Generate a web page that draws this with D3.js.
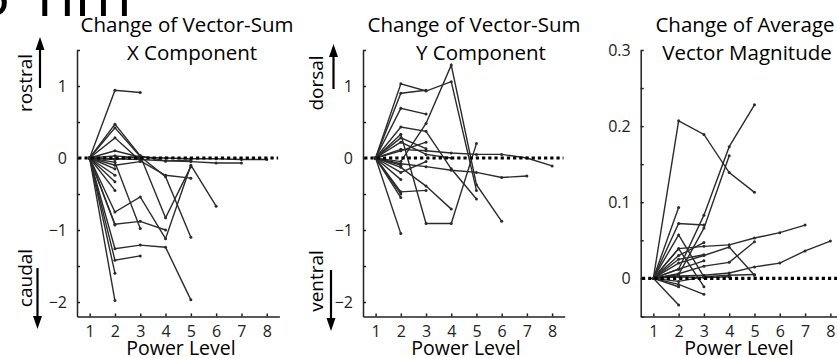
<!DOCTYPE html>
<html>
<head>
<meta charset="utf-8">
<script src="https://cdn.jsdelivr.net/npm/d3@7"></script>
<style>
  body { margin: 0; background: #fff; }
  svg { display: block; font-family: "Open Sans", sans-serif; }
</style>
</head>
<body>
<svg id="chart" width="837" height="358"></svg>
<script>
// power levels on the x axis
const powerLevels = [1, 2, 3, 4, 5, 6, 7, 8];

// y ticks
const compTicks = [-2, -1.5, -1, -0.5, 0, 0.5, 1, 1.5];
const compLabels = [-2, -1, 0, 1];
const magTicks = [-0.05, 0, 0.05, 0.1, 0.15, 0.2, 0.25, 0.3];
const magLabels = [0, 0.1, 0.2, 0.3];

// change of vector-sum X component, one array per site (starts at power level 1)
const xCompSeries = [
  [0, 0.94, 0.91],
  [0, 0.47, 0.03, -0.83, -0.12],
  [0, 0.42, 0.02, -0.26, -1.10],
  [0, 0.28, -0.04, -0.24, -0.28],
  [0, 0.10, 0.01, 0.0, -0.01, -0.01, -0.02, -0.02],
  [0, -0.01, -0.02, -0.04, -0.05, -0.07, -0.07],
  [0, -0.02, 0.03, -0.04, -0.03],
  [0, -0.06, -0.98],
  [0, -0.75, -0.54, -1.12, -0.10, -0.67],
  [0, -0.92, -0.88, -1.0],
  [0, -1.26, -1.21, -1.24, -1.97],
  [0, -1.42, -1.36],
  [0, -1.60],
  [0, -1.98],
  [0, -0.93],
  [0, -0.33],
  [0, -0.24],
  [0, -0.15],
  [0, -0.10, -0.05],
  [0, 0.03, 0.0],
  [0, -0.45]
];

// change of vector-sum Y component
const yCompSeries = [
  [0, 1.03, 0.93, 1.06, -0.45],
  [0, -0.05, 0.48, 1.29, -0.37, -0.88],
  [0, 0.90, 0.94],
  [0, 0.69, 0.61],
  [0, 0.43, 0.37, -0.15, -0.57],
  [0, 0.33, -0.91, -0.91, 0.20],
  [0, 0.12, 0.10, 0.07, 0.05, 0.05, 0.0, -0.11],
  [0, -0.08, -0.12, -0.17, -0.20, -0.27, -0.25],
  [0, 0.10, 0.22],
  [0, 0.28, 0.13],
  [0, -0.47, -0.45],
  [0, -0.13, -0.39, -0.71],
  [0, -1.05],
  [0, -0.55],
  [0, -0.50],
  [0, -0.30],
  [0, -0.20, -0.05],
  [0, 0.22, 0.05, 0.0],
  [0, -0.10]
];

// change of average vector magnitude
const magSeries = [
  [0, 0.207, 0.189, 0.139, 0.113],
  [0, 0.012, 0.083, 0.173, 0.228],
  [0, 0.005, 0.066, 0.161],
  [0, 0.093],
  [0, 0.072, 0.070],
  [0, 0.039, 0.042, 0.044, 0.053, 0.060, 0.070],
  [0, 0.003, 0.004, 0.007, 0.015, 0.020, 0.036, 0.049],
  [0, 0.020, 0.030, 0.041, 0.004],
  [0, 0.006, 0.016, 0.021, 0.048],
  [0, 0.057, 0.002, 0.004, 0.005],
  [0, 0.039, -0.011],
  [0, -0.008, -0.021],
  [0, -0.035],
  [0, -0.011],
  [0, 0.030, 0.047],
  [0, 0.012, 0.023],
  [0, 0.002, 0.001, 0.002],
  [0, -0.004, 0.002],
  [0, 0.025, 0.031]
];

const svg = d3.select("#chart");
const lineColor = "#2b2b2b";

const fmt = v => String(+v.toFixed(2)).replace("-", "\u2212");

// big label cut off by the top edge
svg.append("text").attr("x", -24).attr("y", 16).attr("font-size", 60).text("5");
svg.append("text").attr("x", 37).attr("y", 16).attr("font-size", 60)
  .attr("textLength", 95).attr("lengthAdjust", "spacingAndGlyphs").text("nm");

function drawPanel(p) {
  const x = d3.scaleLinear().domain([0.5, 8.5]).range([p.left, p.right]);
  const y = d3.scaleLinear().domain(p.yDomain).range([316.4, 50]);
  const g = svg.append("g");

  const xAxis = g.append("g")
    .attr("transform", `translate(0,${y.range()[0]})`)
    .call(d3.axisBottom(x).tickValues(powerLevels).tickSize(-3).tickSizeOuter(0).tickPadding(9));

  const yAxis = g.append("g")
    .attr("transform", `translate(${p.left},0)`)
    .call(d3.axisLeft(y).tickValues(p.ticks).tickSize(-3).tickSizeOuter(0).tickPadding(10)
      .tickFormat(v => p.labels.some(l => Math.abs(l - v) < 1e-9) ? fmt(v) : ""));

  [xAxis, yAxis].forEach(a => {
    a.attr("font-size", 16).attr("font-family", null).attr("color", "#222");
    a.selectAll("path, line").attr("stroke-width", 1.5);
  });

  const line = d3.line()
    .x((d, i) => x(powerLevels[i]))
    .y(d => y(d));

  const lines = g.append("g");
  p.series.forEach(s => {
    lines.append("path")
      .datum(s)
      .attr("fill", "none")
      .attr("stroke", lineColor)
      .attr("stroke-width", 1.4)
      .attr("d", line);
    lines.selectAll(null)
      .data(s)
      .join("circle")
      .attr("cx", (d, i) => x(powerLevels[i]))
      .attr("cy", d => y(d))
      .attr("r", 1.5)
      .attr("fill", lineColor);
  });

  // dotted zero reference
  g.append("line")
    .attr("x1", x(0.55)).attr("x2", x(8.45))
    .attr("y1", y(0)).attr("y2", y(0))
    .attr("stroke", "#000")
    .attr("stroke-width", 3.2)
    .attr("stroke-dasharray", "3.2,3");

  // title
  p.title.forEach((t, i) => {
    g.append("text")
      .attr("x", p.titleX[i]).attr("y", 32 + i * 27.6)
      .attr("text-anchor", "middle")
      .attr("font-size", 20.5)
      .text(t);
  });

  g.append("text")
    .attr("x", p.xLabelX).attr("y", 355)
    .attr("text-anchor", "middle")
    .attr("font-size", 19.5)
    .text("Power Level");

  // direction labels with arrows
  (p.dirs || []).forEach(d => {
    g.append("text")
      .attr("transform", `translate(${d.tx},${d.ty}) rotate(-90)`)
      .attr("text-anchor", "middle")
      .attr("font-size", 19)
      .text(d.text);
    const dir = d.tip < d.base ? 1 : -1;
    g.append("line")
      .attr("x1", d.ax).attr("x2", d.ax)
      .attr("y1", d.base).attr("y2", d.tip + dir * 10)
      .attr("stroke", "#000").attr("stroke-width", 2.2);
    g.append("path")
      .attr("d", `M${d.ax},${d.tip}L${d.ax - 4.5},${d.tip + dir * 13}L${d.ax + 4.5},${d.tip + dir * 13}Z`)
      .attr("fill", "#000");
  });
}

drawPanel({
  left: 77, right: 279.4, yDomain: [-2.2, 1.5],
  ticks: compTicks, labels: compLabels, series: xCompSeries,
  title: ["Change of Vector-Sum", "X Component"], titleX: [187, 192], xLabelX: 181,
  dirs: [
    { text: "rostral", tx: 32, ty: 83, ax: 40, base: 88, tip: 37 },
    { text: "caudal", tx: 32, ty: 278, ax: 37.5, base: 268, tip: 329 }
  ]
});

drawPanel({
  left: 363, right: 564.7, yDomain: [-2.2, 1.5],
  ticks: compTicks, labels: compLabels, series: yCompSeries,
  title: ["Change of Vector-Sum", "Y Component"], titleX: [474, 481], xLabelX: 466,
  dirs: [
    { text: "dorsal", tx: 323, ty: 83, ax: 333.5, base: 89, tip: 44 },
    { text: "ventral", tx: 323, ty: 281, ax: 331, base: 270, tip: 331 }
  ]
});

drawPanel({
  left: 640.7, right: 843, yDomain: [-0.05, 0.3],
  ticks: magTicks, labels: magLabels, series: magSeries,
  title: ["Change of Average", "Vector Magnitude"], titleX: [745, 747], xLabelX: 739
});
</script>
</body>
</html>
